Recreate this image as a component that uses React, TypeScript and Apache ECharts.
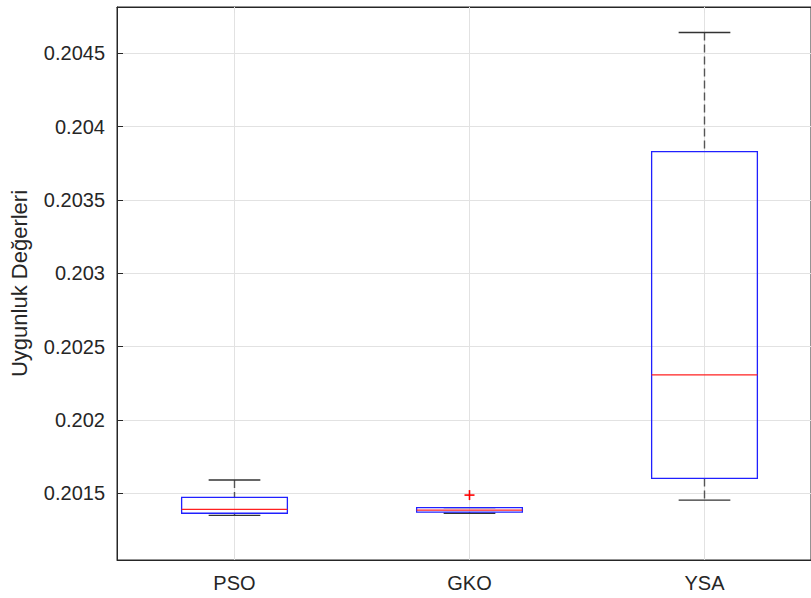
import React, { useEffect, useRef } from "react";
import * as echarts from "echarts";

const categories = ["PSO", "GKO", "YSA"];
const whiskerLow = [0.201348, 0.201362, 0.201452];
const q1 = [0.201362, 0.20137, 0.2016];
const median = [0.201389, 0.201384, 0.202307];
const q3 = [0.201471, 0.2014, 0.20383];
const whiskerHigh = [0.201589, 0.2014, 0.204643];
const outliers: [number, number][] = [[2, 0.201486]];
const positions = [1, 2, 3];
const xMin = 0.5;
const xMax = 3.4532;
const yMin = 0.201043;
const yMax = 0.204817;
const yStep = 0.0005;
const yLabel = "Uygunluk Değerleri";

const AX = "#262626";
const GRIDC = "#e2e2e2";
const FONT = "Liberation Sans, Arial, sans-serif";

export default function App() {
  const ref = useRef<HTMLDivElement>(null);
  useEffect(() => {
    if (!ref.current) return;
    const chart = echarts.init(ref.current, undefined, { renderer: "svg" });
    const boxData = categories.map((_, i) => [positions[i], whiskerLow[i], q1[i], median[i], q3[i], whiskerHigh[i]]);
    const tickFmt = (v: number) => {
      const k = Math.round(v / yStep);
      if (Math.abs(v - k * yStep) > 1e-9) return "";
      return parseFloat((k * yStep).toFixed(4)).toString();
    };
    const catFmt = (v: number) => {
      const i = positions.findIndex((p) => Math.abs(p - v) < 1e-6);
      return i >= 0 ? categories[i] : "";
    };
    const xCommon = {
      type: "value",
      min: xMin,
      max: xMax,
      axisLine: { show: true, onZero: false, lineStyle: { color: AX, width: 1 } },
      axisTick: { show: true, inside: true, length: 6, customValues: positions, lineStyle: { color: AX } },
      splitLine: { show: false },
    };
    chart.setOption({
      animation: false,
      backgroundColor: "#ffffff",
      textStyle: { fontFamily: FONT },
      grid: { left: 117, top: 7, right: 0, height: 553, show: true, borderColor: AX, borderWidth: 1, backgroundColor: "transparent" },
      xAxis: [
        {
          ...xCommon,
          position: "bottom",
          axisLabel: { fontSize: 20, color: AX, margin: 13, fontFamily: FONT, customValues: positions, formatter: catFmt, showMinLabel: true, showMaxLabel: true },
        },
        {
          ...xCommon,
          position: "top",
          axisLabel: { show: false },
        },
      ],
      yAxis: {
        type: "value",
        min: yMin,
        max: yMax,
        minInterval: yStep,
        maxInterval: yStep,
        splitNumber: 7,
        name: yLabel,
        nameLocation: "middle",
        nameGap: 87,
        nameTextStyle: { fontSize: 22, color: AX, fontFamily: FONT },
        axisLine: { show: true, onZero: false, lineStyle: { color: AX, width: 1 } },
        axisTick: { show: true, inside: true, length: 6, lineStyle: { color: AX } },
        axisLabel: { fontSize: 20, color: AX, margin: 12, formatter: tickFmt, showMinLabel: false, showMaxLabel: false, fontFamily: FONT },
        splitLine: { show: true, lineStyle: { color: GRIDC, width: 1 } },
      },
      series: [
        {
          type: "custom",
          xAxisIndex: 0,
          data: boxData,
          encode: { x: 0, y: [1, 2, 3, 4, 5] },
          z: 3,
          clip: false,
          renderItem: (params: any, api: any) => {
            const i = api.value(0);
            const lo = api.value(1), a = api.value(2), m = api.value(3), b = api.value(4), hi = api.value(5);
            const band = api.size([1, 0])[0];
            const bw = band * 0.45;
            const cw = band * 0.22;
            const cs = params.coordSys;
            const pLo = api.coord([i, lo]);
            const pA = api.coord([i, a]);
            const pM = api.coord([i, m]);
            const pB = api.coord([i, b]);
            const pHi = api.coord([i, hi]);
            const x = pM[0];
            const children: any[] = [
              { type: "line", shape: { x1: x, y1: cs.y, x2: x, y2: cs.y + cs.height }, style: { stroke: GRIDC, lineWidth: 1 } },
            ];
            if (pHi[1] < pB[1] - 0.5) {
              children.push({ type: "line", shape: { x1: x, y1: pHi[1], x2: x, y2: pB[1] }, style: { stroke: "#555", lineWidth: 1.4, lineDash: [8, 4] } });
            }
            if (pLo[1] > pA[1] + 0.5) {
              children.push({ type: "line", shape: { x1: x, y1: pA[1], x2: x, y2: pLo[1] }, style: { stroke: "#555", lineWidth: 1.4, lineDash: [8, 4] } });
            }
            children.push(
              { type: "line", shape: { x1: x - cw / 2, y1: pHi[1], x2: x + cw / 2, y2: pHi[1] }, style: { stroke: "#333", lineWidth: 1.3 } },
              { type: "line", shape: { x1: x - cw / 2, y1: pLo[1], x2: x + cw / 2, y2: pLo[1] }, style: { stroke: "#333", lineWidth: 1.3 } },
              { type: "rect", shape: { x: x - bw / 2, y: pB[1], width: bw, height: pA[1] - pB[1] }, style: { fill: "none", stroke: "#2020ff", lineWidth: 1.3 } },
              { type: "line", shape: { x1: x - bw / 2, y1: pM[1], x2: x + bw / 2, y2: pM[1] }, style: { stroke: "#ff2020", lineWidth: 1.3 } }
            );
            return { type: "group", children };
          },
        },
        {
          type: "custom",
          xAxisIndex: 0,
          data: outliers,
          encode: { x: 0, y: 1 },
          z: 4,
          clip: false,
          renderItem: (params: any, api: any) => {
            const p = api.coord([api.value(0), api.value(1)]);
            const h = 5;
            return {
              type: "group",
              children: [
                { type: "line", shape: { x1: p[0] - h, y1: p[1], x2: p[0] + h, y2: p[1] }, style: { stroke: "#ff0000", lineWidth: 1.6 } },
                { type: "line", shape: { x1: p[0], y1: p[1] - h, x2: p[0], y2: p[1] + h }, style: { stroke: "#ff0000", lineWidth: 1.6 } },
              ],
            };
          },
        },
      ],
    });
    return () => chart.dispose();
  }, []);
  return <div ref={ref} style={{ position: "fixed", left: 0, top: 0, width: 811, height: 598, background: "#fff" }} />;
}
